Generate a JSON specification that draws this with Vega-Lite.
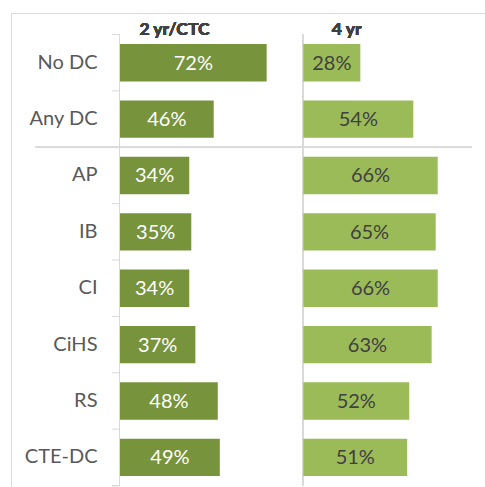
{
  "$schema": "https://vega.github.io/schema/vega-lite/v6.json",
  "width": 476,
  "height": 476,
  "autosize": "none",
  "padding": {"left": 11, "top": 13, "right": -2, "bottom": -2},
  "background": "white",
  "config": {"view": {"stroke": "#d9d9d9", "strokeWidth": 1}, "font": "Lato"},
  "data": {"values": [
    {"cat": "No DC", "two": 0.72, "four": 0.28},
    {"cat": "Any DC", "two": 0.46, "four": 0.54},
    {"cat": "AP", "two": 0.34, "four": 0.66},
    {"cat": "IB", "two": 0.35, "four": 0.65},
    {"cat": "CI", "two": 0.34, "four": 0.66},
    {"cat": "CiHS", "two": 0.37, "four": 0.63},
    {"cat": "RS", "two": 0.48, "four": 0.52},
    {"cat": "CTE-DC", "two": 0.49, "four": 0.51}
  ]},
  "resolve": {"scale": {"x": "independent"}},
  "layer": [
    {
      "layer": [
        {
          "mark": {"type": "rule", "color": "#d9d9d9", "strokeWidth": 1},
          "encoding": {
            "x": {"datum": -0.4173, "type": "quantitative", "scale": {"domain": [-0.5351, 1.8017], "nice": false, "zero": false}, "axis": null},
            "x2": {"datum": 1.7266},
            "y": {"datum": "AP", "type": "nominal", "bandPosition": 0, "scale": {"type": "band", "domain": ["No DC", "Any DC", "AP", "IB", "CI", "CiHS", "RS", "CTE-DC"], "paddingInner": 0, "paddingOuter": 0.2208, "align": 0.863},
              "axis": {"title": null, "domain": false, "ticks": false, "offset": -109, "labelPadding": 23, "labelFontSize": 20, "labelColor": "#595959", "labelFont": "Lato", "grid": false}}
          }
        },
        {
          "mark": {"type": "rule", "color": "#d9d9d9", "strokeWidth": 1},
          "encoding": {
            "x": {"datum": -0.0025, "type": "quantitative", "scale": {"domain": [-0.5351, 1.8017], "nice": false, "zero": false}, "axis": null},
            "y": {"datum": "No DC", "type": "nominal", "bandPosition": 0, "scale": {"type": "band", "domain": ["No DC", "Any DC", "AP", "IB", "CI", "CiHS", "RS", "CTE-DC"], "paddingInner": 0, "paddingOuter": 0.2208, "align": 0.863},
              "axis": {"title": null, "domain": false, "ticks": false, "offset": -109, "labelPadding": 23, "labelFontSize": 20, "labelColor": "#595959", "labelFont": "Lato", "grid": false}},
            "y2": {"datum": "CTE-DC", "bandPosition": 1}
          }
        },
        {
          "mark": {"type": "rule", "color": "#d9d9d9", "strokeWidth": 1},
          "encoding": {
            "x": {"datum": -0.0393, "type": "quantitative", "scale": {"domain": [-0.5351, 1.8017], "nice": false, "zero": false}, "axis": null},
            "x2": {"datum": -0.0025},
            "y": {"field": "cat", "type": "nominal", "bandPosition": 0, "scale": {"type": "band", "domain": ["No DC", "Any DC", "AP", "IB", "CI", "CiHS", "RS", "CTE-DC"], "paddingInner": 0, "paddingOuter": 0.2208, "align": 0.863},
              "axis": {"title": null, "domain": false, "ticks": false, "offset": -109, "labelPadding": 23, "labelFontSize": 20, "labelColor": "#595959", "labelFont": "Lato", "grid": false}}
          }
        },
        {
          "mark": {"type": "rule", "color": "#d9d9d9", "strokeWidth": 1},
          "encoding": {
            "x": {"datum": -0.0393, "type": "quantitative", "scale": {"domain": [-0.5351, 1.8017], "nice": false, "zero": false}, "axis": null},
            "x2": {"datum": -0.0025},
            "y": {"datum": "CTE-DC", "type": "nominal", "bandPosition": 1, "scale": {"type": "band", "domain": ["No DC", "Any DC", "AP", "IB", "CI", "CiHS", "RS", "CTE-DC"], "paddingInner": 0, "paddingOuter": 0.2208, "align": 0.863},
              "axis": {"title": null, "domain": false, "ticks": false, "offset": -109, "labelPadding": 23, "labelFontSize": 20, "labelColor": "#595959", "labelFont": "Lato", "grid": false}}
          }
        },
        {
          "mark": {"type": "bar", "color": "#77933C", "height": {"band": 0.663}},
          "encoding": {
            "x": {"field": "two", "type": "quantitative", "scale": {"domain": [-0.5351, 1.8017], "nice": false, "zero": false}, "axis": null},
            "y": {"field": "cat", "type": "nominal", "scale": {"type": "band", "domain": ["No DC", "Any DC", "AP", "IB", "CI", "CiHS", "RS", "CTE-DC"], "paddingInner": 0, "paddingOuter": 0.2208, "align": 0.863},
              "axis": {"title": null, "domain": false, "ticks": false, "offset": -109, "labelPadding": 23, "labelFontSize": 20, "labelColor": "#595959", "labelFont": "Lato", "grid": false}}
          }
        },
        {
          "mark": {"type": "text", "text": "2 yr/CTC", "fontWeight": "bold", "fontSize": 17.5, "color": "#404040", "align": "center", "baseline": "alphabetic", "dy": 1},
          "encoding": {
            "x": {"datum": 0.2675, "type": "quantitative", "scale": {"domain": [-0.5351, 1.8017], "nice": false, "zero": false}, "axis": null},
            "y": {"datum": "No DC", "type": "nominal", "bandPosition": 0, "scale": {"type": "band", "domain": ["No DC", "Any DC", "AP", "IB", "CI", "CiHS", "RS", "CTE-DC"], "paddingInner": 0, "paddingOuter": 0.2208, "align": 0.863},
              "axis": {"title": null, "domain": false, "ticks": false, "offset": -109, "labelPadding": 23, "labelFontSize": 20, "labelColor": "#595959", "labelFont": "Lato", "grid": false}}
          }
        }
      ]
    },
    {
      "mark": {"type": "text", "color": "white", "fontSize": 20, "align": "center", "baseline": "middle", "dy": 1},
      "encoding": {
        "x": {"field": "two", "type": "quantitative", "scale": {"domain": [-1.0702, 3.6034], "nice": false, "zero": false}, "axis": null},
        "y": {"field": "cat", "type": "nominal", "scale": {"type": "band", "domain": ["No DC", "Any DC", "AP", "IB", "CI", "CiHS", "RS", "CTE-DC"], "paddingInner": 0, "paddingOuter": 0.2208, "align": 0.863},
          "axis": {"title": null, "domain": false, "ticks": false, "offset": -109, "labelPadding": 23, "labelFontSize": 20, "labelColor": "#595959", "labelFont": "Lato", "grid": false}},
        "text": {"field": "two", "type": "quantitative", "format": ".0%"}
      }
    },
    {
      "layer": [
        {
          "mark": {"type": "rule", "color": "#d9d9d9", "strokeWidth": 1},
          "encoding": {
            "x": {"datum": -0.0025, "type": "quantitative", "scale": {"domain": [-1.4350, 0.9018], "nice": false, "zero": false}, "axis": null},
            "y": {"datum": "No DC", "type": "nominal", "bandPosition": 0, "scale": {"type": "band", "domain": ["No DC", "Any DC", "AP", "IB", "CI", "CiHS", "RS", "CTE-DC"], "paddingInner": 0, "paddingOuter": 0.2208, "align": 0.863},
              "axis": {"title": null, "domain": false, "ticks": false, "offset": -109, "labelPadding": 23, "labelFontSize": 20, "labelColor": "#595959", "labelFont": "Lato", "grid": false}},
            "y2": {"datum": "CTE-DC", "bandPosition": 1}
          }
        },
        {
          "mark": {"type": "bar", "color": "#9BBB59", "height": {"band": 0.663}},
          "encoding": {
            "x": {"field": "four", "type": "quantitative", "scale": {"domain": [-1.4350, 0.9018], "nice": false, "zero": false}, "axis": null},
            "y": {"field": "cat", "type": "nominal", "scale": {"type": "band", "domain": ["No DC", "Any DC", "AP", "IB", "CI", "CiHS", "RS", "CTE-DC"], "paddingInner": 0, "paddingOuter": 0.2208, "align": 0.863},
              "axis": {"title": null, "domain": false, "ticks": false, "offset": -109, "labelPadding": 23, "labelFontSize": 20, "labelColor": "#595959", "labelFont": "Lato", "grid": false}}
          }
        },
        {
          "mark": {"type": "text", "text": "4 yr", "fontWeight": "bold", "fontSize": 17.5, "color": "#404040", "align": "center", "baseline": "alphabetic", "dy": 1},
          "encoding": {
            "x": {"datum": 0.213, "type": "quantitative", "scale": {"domain": [-1.4350, 0.9018], "nice": false, "zero": false}, "axis": null},
            "y": {"datum": "No DC", "type": "nominal", "bandPosition": 0, "scale": {"type": "band", "domain": ["No DC", "Any DC", "AP", "IB", "CI", "CiHS", "RS", "CTE-DC"], "paddingInner": 0, "paddingOuter": 0.2208, "align": 0.863},
              "axis": {"title": null, "domain": false, "ticks": false, "offset": -109, "labelPadding": 23, "labelFontSize": 20, "labelColor": "#595959", "labelFont": "Lato", "grid": false}}
          }
        }
      ]
    },
    {
      "mark": {"type": "text", "color": "#404040", "fontSize": 20, "align": "center", "baseline": "middle", "dy": 1},
      "encoding": {
        "x": {"field": "four", "type": "quantitative", "scale": {"domain": [-2.8700, 1.8036], "nice": false, "zero": false}, "axis": null},
        "y": {"field": "cat", "type": "nominal", "scale": {"type": "band", "domain": ["No DC", "Any DC", "AP", "IB", "CI", "CiHS", "RS", "CTE-DC"], "paddingInner": 0, "paddingOuter": 0.2208, "align": 0.863},
          "axis": {"title": null, "domain": false, "ticks": false, "offset": -109, "labelPadding": 23, "labelFontSize": 20, "labelColor": "#595959", "labelFont": "Lato", "grid": false}},
        "text": {"field": "four", "type": "quantitative", "format": ".0%"}
      }
    }
  ]
}
